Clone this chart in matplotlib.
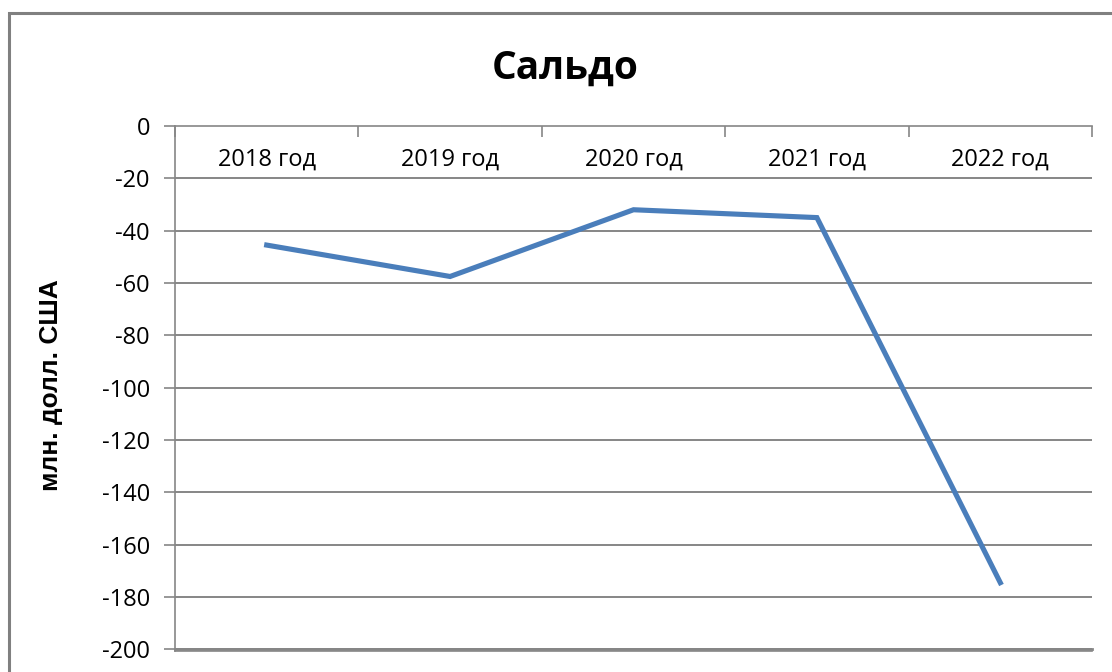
import matplotlib.pyplot as plt
import matplotlib.lines as mlines
import matplotlib.transforms as mtransforms
import numpy as np

# Data
years = ['2018 год', '2019 год', '2020 год', '2021 год', '2022 год']
saldo = [-45.5, -57.5, -32, -35, -174.5]
yticks = list(range(0, -201, -20))

grid_color = '#868686'
line_color = '#4A7EBB'

fig = plt.figure(figsize=(11.12, 6.72), dpi=100)
ax = fig.add_axes([175 / 1112, 1 - 651 / 672, 917 / 1112, 525 / 672])

x = np.arange(len(years))
ax.plot(x, saldo, color=line_color, lw=3.7, solid_joinstyle='miter', zorder=3, clip_on=False)

# Axes limits and grid
ax.set_xlim(-0.5, len(years) - 0.5)
ax.set_ylim(-200.6, 0)
ax.set_yticks(yticks)
ax.set_yticklabels([str(v) for v in yticks], fontsize=17, family='Open Sans')
for v in yticks[1:]:
    ax.axhline(v, color=grid_color, lw=1.4, zorder=1)
# lowest gridline, drawn on top and unclipped
ax.axhline(yticks[-1], color=grid_color, lw=2.0, zorder=10, clip_on=False)
ax.tick_params(axis='y', length=8, width=1.2, color=grid_color, pad=10)

# Category axis sits at the top (value 0), ticks between categories pointing down
ax.xaxis.set_ticks_position('top')
ax.set_xticks(np.arange(-0.5, len(years), 1.0))
ax.set_xticklabels([])
ax.tick_params(axis='x', direction='in', length=8, width=1.2, color=grid_color)

trans = mtransforms.blended_transform_factory(ax.transData, ax.transAxes)
for i, lab in enumerate(years):
    ax.text(i, 1 - 34 / 525, lab, transform=trans, ha='center', va='center',
            fontsize=17, family='Open Sans')

ax.spines['right'].set_visible(False)
for side in ['left', 'top', 'bottom']:
    ax.spines[side].set_color(grid_color)
    ax.spines[side].set_linewidth(1.2)

# Title and axis label
fig.text(565 / 1112, 1 - 68 / 672, 'Сальдо', ha='center', va='center',
         fontsize=28, fontweight='bold', family='Open Sans')
fig.text(51 / 1112, 1 - 385 / 672, 'млн. долл. США', ha='center', va='center',
         rotation=90, fontsize=19, fontweight='bold', family='Liberation Sans')

# Chart border, only left and top edges are inside the picture
bx, by = 9 / 1112, 1 - 13 / 672
fig.add_artist(mlines.Line2D([bx, bx, 1.0], [0.0, by, by], transform=fig.transFigure,
                             color='#808080', lw=2.2, solid_joinstyle='miter'))

fig.savefig('out.png', dpi=100)
